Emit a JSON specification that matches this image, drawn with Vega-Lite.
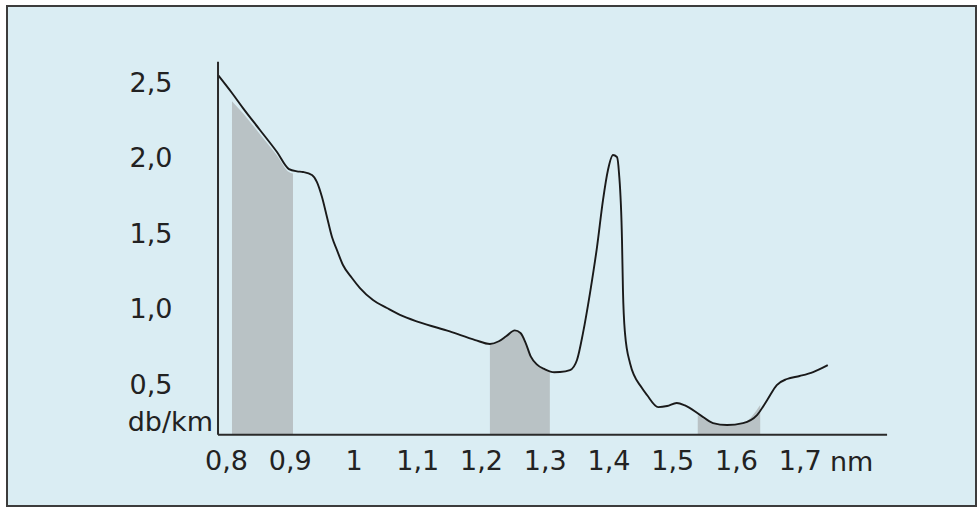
{
  "$schema": "https://vega.github.io/schema/vega-lite/v6.json",
  "width": 969,
  "height": 500,
  "autosize": {"type": "none"},
  "padding": {"left": 7, "top": 6, "right": 1, "bottom": 2},
  "background": "#ffffff",
  "config": {
    "view": {"fill": "#daedf3", "stroke": "#3c3c3c", "strokeWidth": 2},
    "font": "DejaVu Sans"
  },
  "datasets": {
    "curve": [
      {"x": 0.7875, "y": 2.553}, {"x": 0.8094, "y": 2.434}, {"x": 0.8267, "y": 2.334}, {"x": 0.8533, "y": 2.189},
      {"x": 0.88, "y": 2.043}, {"x": 0.8988, "y": 1.93}, {"x": 0.9114, "y": 1.915}, {"x": 0.9208, "y": 1.911},
      {"x": 0.9349, "y": 1.891}, {"x": 0.9427, "y": 1.844}, {"x": 0.9506, "y": 1.745}, {"x": 0.9584, "y": 1.613},
      {"x": 0.9663, "y": 1.48}, {"x": 0.9741, "y": 1.394}, {"x": 0.9835, "y": 1.295}, {"x": 0.9976, "y": 1.209},
      {"x": 1.0102, "y": 1.142}, {"x": 1.0306, "y": 1.063}, {"x": 1.0525, "y": 1.01}, {"x": 1.0729, "y": 0.964},
      {"x": 1.104, "y": 0.915}, {"x": 1.151, "y": 0.855}, {"x": 1.191, "y": 0.798}, {"x": 1.214, "y": 0.772},
      {"x": 1.228, "y": 0.79}, {"x": 1.24, "y": 0.825}, {"x": 1.253, "y": 0.862}, {"x": 1.262, "y": 0.845},
      {"x": 1.27, "y": 0.78}, {"x": 1.278, "y": 0.69}, {"x": 1.288, "y": 0.635}, {"x": 1.3, "y": 0.605},
      {"x": 1.315, "y": 0.585}, {"x": 1.324, "y": 0.586}, {"x": 1.3396, "y": 0.599}, {"x": 1.3506, "y": 0.666},
      {"x": 1.36, "y": 0.844}, {"x": 1.371, "y": 1.109}, {"x": 1.382, "y": 1.414}, {"x": 1.3914, "y": 1.725},
      {"x": 1.3992, "y": 1.924}, {"x": 1.407, "y": 2.023}, {"x": 1.4133, "y": 2.01}, {"x": 1.4165, "y": 1.904},
      {"x": 1.4212, "y": 1.46}, {"x": 1.4227, "y": 1.129}, {"x": 1.4259, "y": 0.844}, {"x": 1.4337, "y": 0.646},
      {"x": 1.4525, "y": 0.48}, {"x": 1.4604, "y": 0.434}, {"x": 1.478, "y": 0.354}, {"x": 1.492, "y": 0.361},
      {"x": 1.507, "y": 0.381}, {"x": 1.52, "y": 0.365}, {"x": 1.544, "y": 0.301}, {"x": 1.564, "y": 0.248},
      {"x": 1.586, "y": 0.235}, {"x": 1.611, "y": 0.248}, {"x": 1.633, "y": 0.301}, {"x": 1.649, "y": 0.401},
      {"x": 1.664, "y": 0.5}, {"x": 1.68, "y": 0.54}, {"x": 1.7, "y": 0.56}, {"x": 1.721, "y": 0.586},
      {"x": 1.744, "y": 0.632}
    ],
    "bands": [
      {"band": "a", "x": 0.8094, "y": 2.38}, {"band": "a", "x": 0.8267, "y": 2.3}, {"band": "a", "x": 0.8533, "y": 2.16},
      {"band": "a", "x": 0.88, "y": 2.02}, {"band": "a", "x": 0.8988, "y": 1.91}, {"band": "a", "x": 0.9051, "y": 1.9},
      {"band": "b", "x": 1.214, "y": 0.765}, {"band": "b", "x": 1.228, "y": 0.79}, {"band": "b", "x": 1.24, "y": 0.825},
      {"band": "b", "x": 1.253, "y": 0.862}, {"band": "b", "x": 1.262, "y": 0.845}, {"band": "b", "x": 1.27, "y": 0.78},
      {"band": "b", "x": 1.278, "y": 0.69}, {"band": "b", "x": 1.288, "y": 0.635}, {"band": "b", "x": 1.3, "y": 0.605},
      {"band": "b", "x": 1.308, "y": 0.592},
      {"band": "c", "x": 1.54, "y": 0.301}, {"band": "c", "x": 1.564, "y": 0.248}, {"band": "c", "x": 1.586, "y": 0.235},
      {"band": "c", "x": 1.611, "y": 0.248}, {"band": "c", "x": 1.638, "y": 0.368}
    ],
    "labels": [
      {"x": 0.7875, "y": 0.248, "text": "db/km", "pos": "left"},
      {"x": 1.7475, "y": -0.017, "text": "nm", "pos": "right"}
    ]
  },
  "layer": [
    {
      "data": {"name": "bands"},
      "mark": {"type": "area", "interpolate": "monotone", "color": "#b9c2c5"},
      "encoding": {
        "x": {"field": "x", "type": "quantitative", "title": null,
              "scale": {"domain": [0.4565, 1.9765], "nice": false, "zero": false},
              "axis": {"orient": "bottom", "offset": -71, "domain": false, "ticks": false, "grid": false,
                       "values": [0.8, 0.9, 1.0, 1.1, 1.2, 1.3, 1.4, 1.5, 1.6, 1.7],
                       "labelExpr": "replace(format(datum.value, '.1~f'), '.', ',')",
                       "labelFontSize": 27, "labelColor": "#222222", "labelPadding": 13, "labelFont": "DejaVu Sans"}},
        "y": {"field": "y", "type": "quantitative", "title": null,
              "scale": {"domain": [-0.301, 3.01], "nice": false, "zero": false},
              "axis": {"orient": "left", "offset": -211, "domain": false, "ticks": false, "grid": false,
                       "values": [0.5, 1.0, 1.5, 2.0, 2.5],
                       "labelExpr": "replace(format(datum.value, '.1f'), '.', ',')",
                       "labelFontSize": 27, "labelColor": "#222222", "labelPadding": 46, "labelFont": "DejaVu Sans"}},
        "y2": {"datum": 0.17},
        "detail": {"field": "band"}
      }
    },
    {
      "data": {"name": "curve"},
      "mark": {"type": "line", "interpolate": "monotone", "color": "#1a1a1a", "strokeWidth": 1.9},
      "encoding": {
        "x": {"field": "x", "type": "quantitative", "title": null},
        "y": {"field": "y", "type": "quantitative", "title": null}
      }
    },
    {
      "data": {"values": [{}]},
      "mark": {"type": "rule", "color": "#2a2a2a", "strokeWidth": 2},
      "encoding": {
        "x": {"datum": 0.7875, "type": "quantitative"},
        "y": {"datum": 0.17, "type": "quantitative"},
        "y2": {"datum": 2.64}
      }
    },
    {
      "data": {"values": [{}]},
      "mark": {"type": "rule", "color": "#2a2a2a", "strokeWidth": 2},
      "encoding": {
        "x": {"datum": 0.7875, "type": "quantitative"},
        "x2": {"datum": 1.837},
        "y": {"datum": 0.17, "type": "quantitative"}
      }
    },
    {
      "data": {"name": "labels"},
      "transform": [{"filter": "datum.pos == 'left'"}],
      "mark": {"type": "text", "align": "right", "baseline": "middle", "dx": -5, "fontSize": 27, "color": "#222222", "font": "DejaVu Sans"},
      "encoding": {
        "x": {"field": "x", "type": "quantitative", "title": null},
        "y": {"field": "y", "type": "quantitative", "title": null},
        "text": {"field": "text"}
      }
    },
    {
      "data": {"name": "labels"},
      "transform": [{"filter": "datum.pos == 'right'"}],
      "mark": {"type": "text", "align": "left", "baseline": "middle", "fontSize": 27, "color": "#222222", "font": "DejaVu Sans"},
      "encoding": {
        "x": {"field": "x", "type": "quantitative", "title": null},
        "y": {"field": "y", "type": "quantitative", "title": null},
        "text": {"field": "text"}
      }
    }
  ]
}
